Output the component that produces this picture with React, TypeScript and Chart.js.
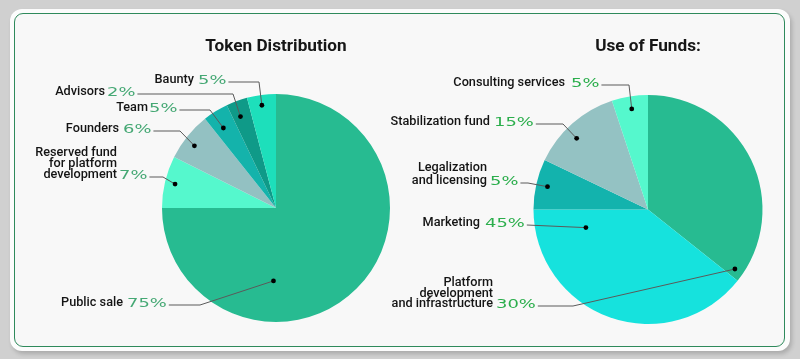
import React, { useEffect, useRef } from "react";
import { Chart, registerables } from "chart.js";

Chart.register(...registerables);

// ---------- data ----------
const tokenCategories = [
  "Public sale",
  "Reserved fund\nfor platform\ndevelopment",
  "Founders",
  "Team",
  "Advisors",
  "Baunty",
];
// slice sizes as drawn (share of the circle, %)
const tokenShares = [75, 7.4, 6.9, 3.6, 3.0, 4.1];
const tokenPercentLabels = ["75%", "7%", "6%", "5%", "2%", "5%"];
const tokenColors = ["#27bb91", "#55f8cd", "#93c1c2", "#14b3ab", "#0f9a88", "#1ddfbb"];

const fundCategories = [
  "Platform\ndevelopment\nand infrastructure",
  "Marketing",
  "Legalization\nand licensing",
  "Stabilization fund",
  "Consulting services",
];
const fundShares = [35.7, 39.3, 7.1, 12.8, 5.1];
const fundPercentLabels = ["30%", "45%", "5%", "15%", "5%"];
const fundColors = ["#27bb91", "#16e2dd", "#13b3ad", "#94c2c3", "#55f8cd"];

// ---------- layout of call-outs (positions only) ----------
type Callout = { right: number; y: number; lh: number; gap: number; elbow: number | null; t: number; rf: number };

const tokenCallouts: Callout[] = [
  { right: 123, y: 303, lh: 11, gap: 4, elbow: 200, t: 0.674, rf: 0.64 },
  { right: 117, y: 175, lh: 11, gap: 2, elbow: 163, t: 0.5, rf: 0.91 },
  { right: 119, y: 129, lh: 11, gap: 4, elbow: 180, t: 0.43, rf: 0.9 },
  { right: 148, y: 108, lh: 11, gap: 1, elbow: 210, t: 0.4, rf: 0.84 },
  { right: 105, y: 92, lh: 11, gap: 2, elbow: 233, t: 0.4, rf: 0.86 },
  { right: 194, y: 80, lh: 11, gap: 4, elbow: 259, t: 0.47, rf: 0.91 },
];

const fundCallouts: Callout[] = [
  { right: 493, y: 304, lh: 10.5, gap: 3, elbow: 573, t: 0.968, rf: 0.92 },
  { right: 480, y: 223, lh: 11, gap: 5, elbow: null, t: 0.885, rf: 0.565 },
  { right: 487, y: 181, lh: 13, gap: 3, elbow: 528, t: 0.5, rf: 0.9 },
  { right: 490, y: 122, lh: 11, gap: 4, elbow: 563, t: 0.42, rf: 0.88 },
  { right: 565, y: 83, lh: 11, gap: 6, elbow: 629, t: 0.5, rf: 0.89 },
];

const calloutPlugin = {
  id: "callouts",
  afterDraw(chart: any, _args: any, opts: any) {
    const ctx: CanvasRenderingContext2D = chart.ctx;
    const meta = chart.getDatasetMeta(0);
    const arc0: any = meta.data[0];
    ctx.save();
    // title
    ctx.font = "700 17.2px Roboto";
    ctx.fillStyle = "#161616";
    ctx.textAlign = "center";
    ctx.textBaseline = "middle";
    ctx.fillText(opts.title, arc0.x, 47);

    const cats: string[] = opts.categories;
    const pcts: string[] = opts.percents;
    const layout: Callout[] = opts.layout;
    layout.forEach((L, i) => {
      const arc: any = meta.data[i];
      const a = arc.startAngle + L.t * (arc.endAngle - arc.startAngle);
      const r = arc.outerRadius * L.rf;
      const dx = arc.x + Math.cos(a) * r;
      const dy = arc.y + Math.sin(a) * r;

      // name
      const lines = cats[i].split("\n");
      ctx.font = "500 12.7px Roboto";
      ctx.fillStyle = "#141414";
      ctx.textAlign = "right";
      ctx.textBaseline = "middle";
      lines.forEach((ln, k) => {
        ctx.fillText(ln, L.right, L.y - (lines.length - 1 - k) * L.lh);
      });

      // percent
      const sx0 = L.right + L.gap;
      ctx.save();
      ctx.translate(sx0, L.y + 1);
      ctx.scale(1.4, 1);
      ctx.font = "400 12.8px 'DejaVu Sans'";
      ctx.fillStyle = opts.pctColor;
      ctx.textAlign = "left";
      ctx.textBaseline = "middle";
      ctx.fillText(pcts[i], 0, 0);
      const w = ctx.measureText(pcts[i]).width * 1.4;
      ctx.restore();

      // leader line
      const sx = sx0 + w + 2;
      const ly = L.y + 2;
      ctx.beginPath();
      ctx.moveTo(sx, ly);
      if (L.elbow !== null) ctx.lineTo(L.elbow, ly);
      ctx.lineTo(dx, dy);
      ctx.strokeStyle = "#5a5a5a";
      ctx.lineWidth = 1;
      ctx.stroke();

      // dot
      ctx.beginPath();
      ctx.arc(dx, dy, 2.4, 0, Math.PI * 2);
      ctx.fillStyle = "#000";
      ctx.fill();
    });
    ctx.restore();
  },
};

function makePie(
  canvas: HTMLCanvasElement,
  values: number[],
  labels: string[],
  colors: string[],
  padding: { left: number; right: number; top: number; bottom: number },
  plugOpts: any
) {
  return new Chart(canvas, {
    type: "pie",
    data: {
      labels,
      datasets: [{ data: values, backgroundColor: colors, borderWidth: 0, hoverOffset: 0 }],
    },
    options: {
      responsive: false,
      animation: false,
      devicePixelRatio: 1,
      layout: { padding },
      events: [],
      plugins: {
        legend: { display: false },
        tooltip: { enabled: false },
        title: { display: false },
        callouts: plugOpts,
      } as any,
    },
    plugins: [calloutPlugin as any],
  });
}

export default function App() {
  const leftRef = useRef<HTMLCanvasElement>(null);
  const rightRef = useRef<HTMLCanvasElement>(null);

  useEffect(() => {
    const c1 = makePie(
      leftRef.current!,
      tokenShares,
      tokenCategories,
      tokenColors,
      { left: 162, right: 410, top: 94, bottom: 37 },
      {
        title: "Token Distribution",
        categories: tokenCategories,
        percents: tokenPercentLabels,
        layout: tokenCallouts,
        pctColor: "#45a874",
      }
    );
    const c2 = makePie(
      rightRef.current!,
      fundShares,
      fundCategories,
      fundColors,
      { left: 533, right: 37, top: 95, bottom: 35 },
      {
        title: "Use of Funds:",
        categories: fundCategories,
        percents: fundPercentLabels,
        layout: fundCallouts,
        pctColor: "#2bae4c",
      }
    );
    return () => {
      c1.destroy();
      c2.destroy();
    };
  }, []);

  return (
    <div
      style={{
        position: "fixed",
        left: 0,
        top: 0,
        width: 800,
        height: 359,
        background: "#d0d0d0",
        overflow: "hidden",
      }}
    >
      <div
        style={{
          position: "absolute",
          left: 10,
          top: 9,
          width: 780,
          height: 342,
          borderRadius: 12,
          background: "#fcfcfc",
          boxShadow: "2px 3px 4px rgba(0,0,0,0.18)",
        }}
      />
      <div
        style={{
          position: "absolute",
          left: 14,
          top: 13,
          width: 771,
          height: 334,
          boxSizing: "border-box",
          border: "1.5px solid #2f8a5c",
          borderRadius: 9,
          background: "#f8f8f8",
        }}
      />
      <canvas ref={leftRef} width={800} height={359} style={{ position: "absolute", left: 0, top: 0 }} />
      <canvas ref={rightRef} width={800} height={359} style={{ position: "absolute", left: 0, top: 0 }} />
    </div>
  );
}
